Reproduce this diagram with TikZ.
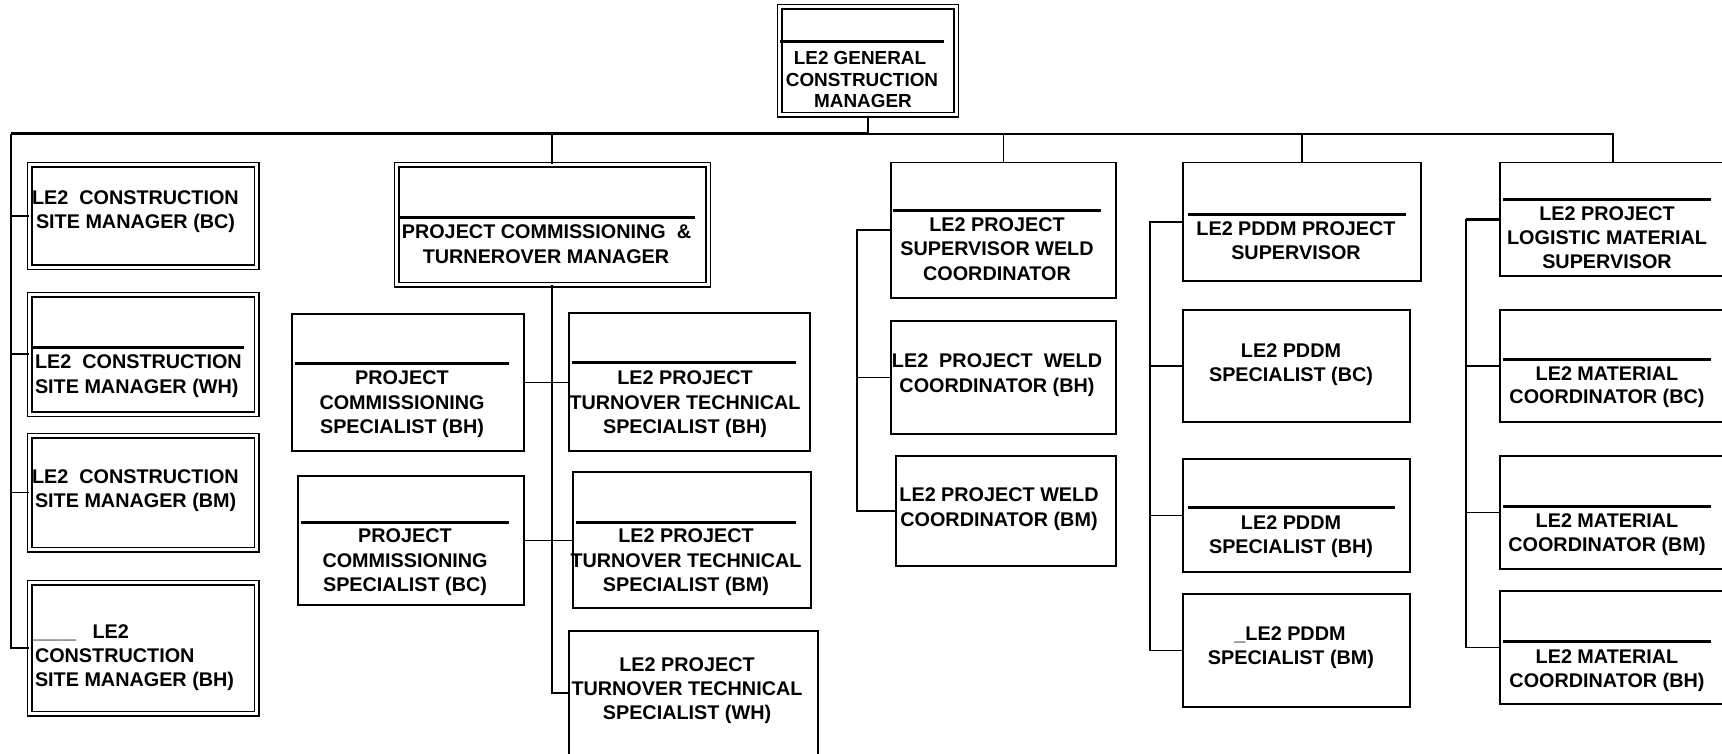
\documentclass[tikz,border=0pt]{standalone}
\usepackage{fontspec}
\setmainfont{Liberation Sans}
\newcommand\tline[5][base]{\node[lbl,anchor=#1] (#2) at (#3,#4) {#5};}
\tikzset{
  sbox/.style={draw, rectangle, line width=1.8pt, inner sep=0pt},
  dbox/.style={draw, rectangle, double, double distance=3pt, line width=1.5pt, inner sep=0pt},
  conn/.style={line width=1.8pt},
  barline/.style={line width=3pt},
  hrule/.style={line width=3pt},
  lbl/.style={font=\fontsize{19.8}{24}\selectfont\bfseries, inner sep=0pt, outer sep=0pt},
  toplbl/.style={font=\fontsize{18.9}{22}\selectfont\bfseries},
}
\begin{document}
\begin{tikzpicture}[x=1pt,y=-1pt]
\path[use as bounding box, fill=white] (0,0) rectangle (1722,754);

% ---------- boxes ----------
\node[dbox, minimum width=176.5pt, minimum height=108pt] (gcm) at (867.75,61) {};
\node[dbox, minimum width=227pt, minimum height=102.5pt] (lbc) at (143,216.25) {};
\node[dbox, minimum width=227pt, minimum height=119.5pt] (lwh) at (143,354.25) {};
\node[dbox, minimum width=227pt, minimum height=114pt] (lbm) at (143,492.5) {};
\node[dbox, minimum width=227pt, minimum height=131pt] (lbh) at (143,648) {};
\node[dbox, minimum width=311.5pt, minimum height=119.5pt] (cm) at (552.25,224.75) {};

\node[sbox, minimum width=232pt, minimum height=137pt] (csbh) at (408,382.5) {};
\node[sbox, minimum width=226pt, minimum height=129pt] (csbc) at (411,540.5) {};
\node[sbox, minimum width=241pt, minimum height=138pt] (tbh) at (689.5,382) {};
\node[sbox, minimum width=238pt, minimum height=136pt] (tbm) at (692,540) {};
\node[sbox, minimum width=249pt, minimum height=124pt] (twh) at (693.5,693) {};

\node[sbox, minimum width=225pt, minimum height=135.5pt] (wsup) at (1003.5,230.25) {};
\node[sbox, minimum width=225pt, minimum height=113pt] (wbh) at (1003.5,377.5) {};
\node[sbox, minimum width=220pt, minimum height=110pt] (wbm) at (1006,511) {};

\node[sbox, minimum width=238pt, minimum height=118.5pt] (psup) at (1302,221.75) {};
\node[sbox, minimum width=227pt, minimum height=112pt] (pbc) at (1296.5,366) {};
\node[sbox, minimum width=227pt, minimum height=113pt] (pbh) at (1296.5,515.5) {};
\node[sbox, minimum width=227pt, minimum height=113pt] (pbm) at (1296.5,650.5) {};

\node[sbox, minimum width=230pt, minimum height=113.5pt] (lsup) at (1615,219.25) {};
\node[sbox, minimum width=230pt, minimum height=112pt] (mbc) at (1615,366) {};
\node[sbox, minimum width=230pt, minimum height=113pt] (mbm) at (1615,512.5) {};
\node[sbox, minimum width=230pt, minimum height=113pt] (mbh) at (1615,647.5) {};

% ---------- rules inside boxes ----------
\draw[hrule] (780,41.7) -- (944,41.7);
\draw[hrule] (31,347) -- (244,347);
\draw[hrule] (398,218) -- (695,218);
\draw[hrule] (295,363) -- (509,363);
\draw[hrule] (301,522) -- (509,522);
\draw[hrule] (572,362) -- (796,362);
\draw[hrule] (576,522) -- (796,522);
\draw[hrule] (893,211) -- (1101,211);
\draw[hrule] (1188,215) -- (1406,215);
\draw[hrule] (1188,507) -- (1395,507);
\draw[hrule] (1503,200) -- (1711,200);
\draw[hrule] (1503,359) -- (1711,359);
\draw[hrule] (1503,506) -- (1711,506);
\draw[hrule] (1503,641) -- (1711,641);

% ---------- connectors ----------
\coordinate (barL) at (11,134);
\coordinate (barR) at (1613,134);
\coordinate (wsp) at (857,300);
\coordinate (psp) at (1150,300);
\coordinate (msp) at (1466,300);

\draw[conn] (gcm.south) -- (gcm.south |- barL);
\draw[barline] (barL) -- (gcm.south |- barL);
\draw[conn] (gcm.south |- barL) -- (barR) -- (barR |- lsup.north);
\draw[conn] (cm.north |- barL) -- (cm.north);
\draw[conn] (wsup.north |- barL) -- (wsup.north);
\draw[conn] (psup.north |- barL) -- (psup.north);

\draw[conn] (barL) |- (lbh.west);
\draw[conn] (barL |- lbc.west) -- (lbc.west);
\draw[conn] (barL |- lwh.west) -- (lwh.west);
\draw[conn] (barL |- lbm.west) -- (lbm.west);

\draw[conn] (cm.south) |- (twh.west);
\draw[conn] (csbh.east) -- (tbh.west |- csbh.east);
\draw[conn] (csbc.east) -- (tbm.west |- csbc.east);

\draw[conn] (wsup.west) -- (wsup.west -| wsp) |- (wbm.west);
\draw[conn] (wbh.west -| wsp) -- (wbh.west);

\draw[conn] (psup.west) -- (psup.west -| psp) |- (pbm.west);
\draw[conn] (pbc.west -| psp) -- (pbc.west);
\draw[conn] (pbh.west -| psp) -- (pbh.west);

\draw[conn] (lsup.west -| msp) |- (mbh.west);
\draw[barline] (lsup.west -| msp) -- (lsup.west);
\draw[conn] (mbc.west -| msp) -- (mbc.west);
\draw[conn] (mbm.west -| msp) -- (mbm.west);

% ---------- texts ----------
\node[lbl,toplbl,anchor=base] (g1) at (860,65) {LE2 GENERAL};
\node[lbl,toplbl,anchor=base] (g2) at (862,86.5) {CONSTRUCTION};
\node[lbl,toplbl,anchor=base] (g3) at (863,108) {MANAGER};

\tline[base west]{a1}{32}{205}{LE2~~CONSTRUCTION}
\tline[base west]{a2}{36}{229}{SITE MANAGER (BC)}
\tline[base west]{b1}{35}{368}{LE2~~CONSTRUCTION}
\tline[base west]{b2}{35}{393}{SITE MANAGER (WH)}
\tline[base west]{c1}{32}{483}{LE2~~CONSTRUCTION}
\tline[base west]{c2}{35}{507}{SITE MANAGER (BM)}
\tline[base west]{d1}{32}{638}{\_\_\_\_~~~LE2}
\tline[base west]{d2}{35}{662}{CONSTRUCTION}
\tline[base west]{d3}{35}{686}{SITE MANAGER (BH)}

\tline{e1}{546.5}{239}{PROJECT COMMISSIONING~~\&}
\tline{e2}{546}{263}{TURNEROVER MANAGER}

\tline{f1}{402}{384}{PROJECT}
\tline{f2}{402}{409}{COMMISSIONING}
\tline{f3}{402}{433}{SPECIALIST (BH)}
\tline{h1}{405}{542}{PROJECT}
\tline{h2}{405}{567}{COMMISSIONING}
\tline{h3}{405}{591}{SPECIALIST (BC)}

\tline{i1}{685}{384}{LE2 PROJECT}
\tline{i2}{685}{409}{TURNOVER TECHNICAL}
\tline{i3}{685}{433}{SPECIALIST (BH)}
\tline{j1}{686}{542}{LE2 PROJECT}
\tline{j2}{686}{567}{TURNOVER TECHNICAL}
\tline{j3}{686}{591}{SPECIALIST (BM)}
\tline{k1}{687}{671}{LE2 PROJECT}
\tline{k2}{687}{695}{TURNOVER TECHNICAL}
\tline{k3}{687}{719}{SPECIALIST (WH)}

\tline{l1}{997}{232}{LE2 PROJECT}
\tline{l2}{997}{256}{SUPERVISOR WELD}
\tline{l3}{997}{280}{COORDINATOR}
\tline{m1}{997}{367}{LE2~~PROJECT~~WELD}
\tline{m2}{997}{392}{COORDINATOR (BH)}
\tline{n1}{999}{501}{LE2 PROJECT WELD}
\tline{n2}{999}{526}{COORDINATOR (BM)}

\tline{o1}{1296}{236}{LE2 PDDM PROJECT}
\tline{o2}{1296}{260}{SUPERVISOR}
\tline{p1}{1291}{357}{LE2 PDDM}
\tline{p2}{1291}{381}{SPECIALIST (BC)}
\tline{q1}{1291}{529}{LE2 PDDM}
\tline{q2}{1291}{553}{SPECIALIST (BH)}
\tline{r1}{1290}{640}{\_LE2 PDDM}
\tline{r2}{1291}{664}{SPECIALIST (BM)}

\tline{s1}{1607}{221}{LE2 PROJECT}
\tline{s2}{1607}{245}{LOGISTIC MATERIAL}
\tline{s3}{1607}{269}{SUPERVISOR}
\tline{u1}{1607}{380}{LE2 MATERIAL}
\tline{u2}{1607}{403}{COORDINATOR (BC)}
\tline{v1}{1607}{527}{LE2 MATERIAL}
\tline{v2}{1607}{551}{COORDINATOR (BM)}
\tline{w1}{1607}{663}{LE2 MATERIAL}
\tline{w2}{1607}{687}{COORDINATOR (BH)}
\end{tikzpicture}
\end{document}
